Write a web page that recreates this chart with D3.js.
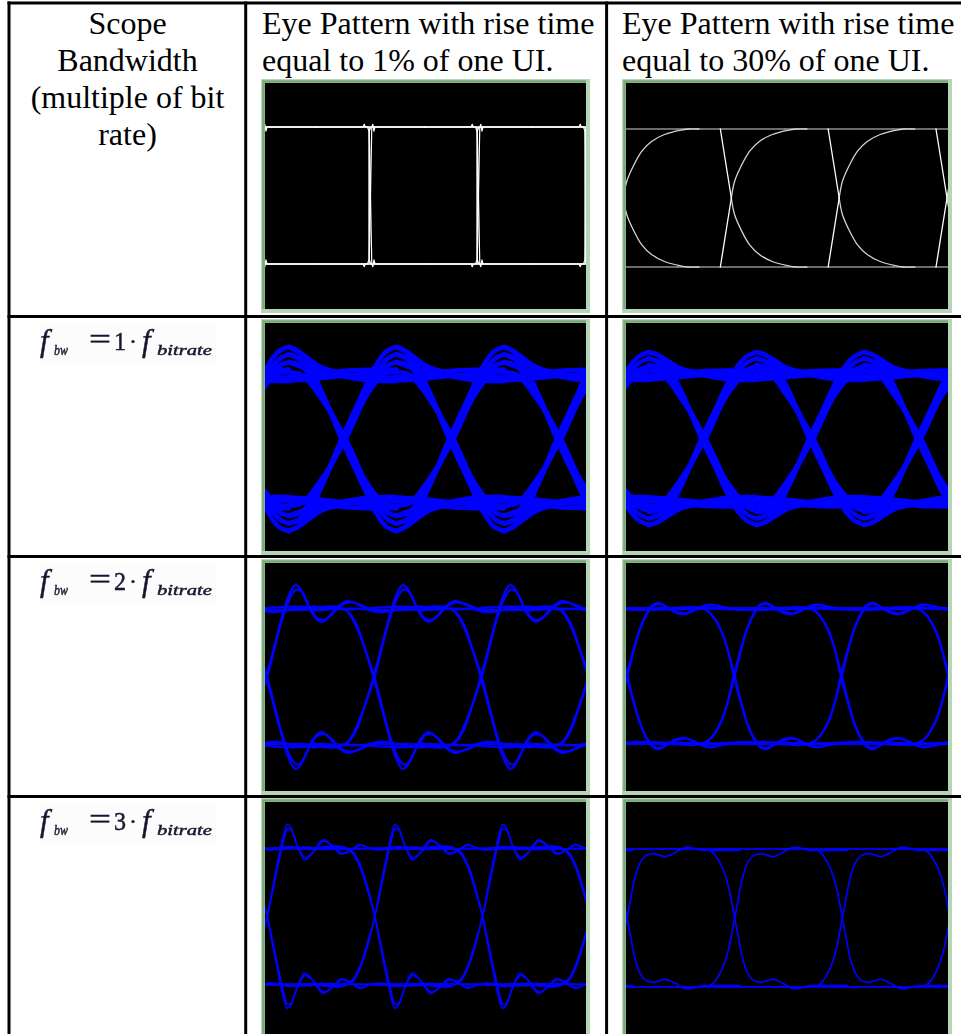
<!DOCTYPE html>
<html>
<head>
<meta charset="utf-8">
<script src="https://cdn.jsdelivr.net/npm/d3@7/dist/d3.min.js"></script>
<style>
html, body { margin: 0; padding: 0; background: #ffffff; }
svg { display: block; }
</style>
</head>
<body>
<svg id="chart" width="961" height="1034"></svg>
<script>
// ---------- table text ----------
const headerScope = ["Scope", "Bandwidth", "(multiple of bit", "rate)"];
const headerFast = ["Eye Pattern with rise time", "equal to 1% of one UI."];
const headerSlow = ["Eye Pattern with rise time", "equal to 30% of one UI."];
const bandwidthMultiples = ["1", "2", "3"];

// ---------- eye traces ----------
// Every trace is a list of [time in UI relative to a crossing, level (0 = low rail, 1 = high rail)].
// Edge traces are drawn at every crossing and again flipped top-to-bottom for the falling edge.

// source signal, 1% rise time
const sharpEdges = [
  [[-0.5, 0], [-0.07, 0], [-0.06, -0.02], [-0.05, 0], [-0.014, 0], [0.01, 1], [0.02, 1.02], [0.03, 0.97], [0.04, 1], [0.5, 1]],
  [[-0.5, 0], [-0.03, 0], [-0.016, 0.03], [-0.012, 0.97], [0.0, 1], [0.5, 1]]
];
const sharpRails = [[[-0.5, 1], [0.5, 1]]];

// source signal, 30% rise time: linear ramp to the crossing, then a rounded settle
const slowRamps = [[[-0.102, 0], [0, 0.5]]];
const slowSettles = [[[0, 0.5], [0.03, 0.62], [0.09, 0.73], [0.17, 0.84], [0.26, 0.91], [0.38, 0.96], [0.52, 0.99], [0.6, 1.0], [0.7, 1.0]]];
const slowRails = [[[-0.5, 1], [0.5, 1]]];

// scope bandwidth 1x bit rate, 1% rise (one UI cell centred on a crossing)
const bw1FastEdges = [
  [[-0.5, -0.23], [-0.42, -0.2], [-0.32, -0.1], [-0.2, 0.11], [-0.1, 0.3], [0, 0.5], [0.1, 0.7], [0.2, 0.89], [0.3, 1.07], [0.4, 1.19], [0.5, 1.23]],
  [[-0.5, -0.17], [-0.42, -0.15], [-0.3, -0.03], [-0.16, 0.2], [0.02, 0.5], [0.16, 0.78], [0.3, 1.01], [0.42, 1.14], [0.5, 1.17]],
  [[-0.5, -0.11], [-0.4, -0.09], [-0.28, 0.02], [-0.14, 0.24], [-0.01, 0.5], [0.14, 0.77], [0.3, 0.99], [0.43, 1.09], [0.5, 1.11]],
  [[-0.5, -0.03], [-0.38, -0.01], [-0.22, 0.15], [0.03, 0.5], [0.22, 0.84], [0.38, 1.01], [0.5, 1.05]]
];
const bw1FastRails = [
  [[-0.5, 1.23], [-0.42, 1.2], [-0.32, 1.14], [-0.2, 1.07], [0, 1.02], [0.2, 0.985], [0.38, 0.965], [0.5, 0.965]],
  [[-0.5, 1.17], [-0.4, 1.14], [-0.2, 1.06], [0, 1.0], [0.2, 0.97], [0.38, 0.96], [0.5, 0.96]],
  [[-0.5, 1.11], [-0.3, 1.05], [0, 1.0], [0.3, 0.985], [0.5, 0.99]],
  [[-0.5, 0.965], [-0.3, 0.975], [0, 1.0], [0.3, 1.02], [0.5, 1.03]],
  [[-0.5, 0.99], [-0.25, 1.01], [0, 1.04], [0.25, 1.05], [0.5, 1.05]]
];

// scope bandwidth 1x bit rate, 30% rise
const bw1SlowEdges = [
  [[-0.5, -0.18], [-0.42, -0.16], [-0.32, -0.07], [-0.2, 0.12], [-0.1, 0.31], [0, 0.5], [0.1, 0.69], [0.2, 0.88], [0.3, 1.04], [0.4, 1.14], [0.5, 1.18]],
  [[-0.5, -0.13], [-0.42, -0.11], [-0.3, -0.01], [-0.16, 0.21], [0.02, 0.5], [0.16, 0.78], [0.3, 1.0], [0.42, 1.1], [0.5, 1.13]],
  [[-0.5, -0.08], [-0.4, -0.06], [-0.28, 0.04], [-0.14, 0.25], [-0.01, 0.5], [0.14, 0.76], [0.3, 0.97], [0.43, 1.05], [0.5, 1.07]],
  [[-0.5, -0.03], [-0.38, -0.01], [-0.22, 0.16], [0.03, 0.5], [0.22, 0.83], [0.38, 0.99], [0.5, 1.03]]
];
const bw1SlowRails = [
  [[-0.5, 1.18], [-0.42, 1.16], [-0.32, 1.11], [-0.2, 1.05], [0, 1.015], [0.2, 0.985], [0.38, 0.965], [0.5, 0.965]],
  [[-0.5, 1.13], [-0.4, 1.1], [-0.2, 1.04], [0, 1.0], [0.2, 0.97], [0.38, 0.96], [0.5, 0.96]],
  [[-0.5, 1.07], [-0.3, 1.03], [0, 1.0], [0.3, 0.985], [0.5, 0.99]],
  [[-0.5, 0.965], [-0.3, 0.975], [0, 1.0], [0.3, 1.015], [0.5, 1.03]],
  [[-0.5, 0.99], [-0.25, 1.005], [0, 1.03], [0.25, 1.035], [0.5, 1.03]]
];

// scope bandwidth 2x bit rate, 1% rise
const bw2FastEdges = [
  [[-0.55, 0.0], [-0.35, -0.01], [-0.25, 0.02], [-0.18, 0.1], [-0.1, 0.25], [-0.04, 0.39], [0, 0.5], [0.06, 0.67], [0.12, 0.85], [0.18, 1.02], [0.23, 1.12], [0.27, 1.165], [0.31, 1.15], [0.37, 1.06], [0.44, 0.95], [0.51, 0.9], [0.58, 0.93], [0.67, 1.01], [0.76, 1.05], [0.85, 1.03], [0.95, 0.99], [1.05, 0.97], [1.15, 0.975], [1.3, 1.0], [1.45, 1.01], [1.55, 1.0]],
  [[-0.55, 0.02], [-0.3, 0.0], [-0.22, 0.04], [-0.15, 0.13], [-0.08, 0.29], [0.01, 0.5], [0.08, 0.71], [0.14, 0.89], [0.2, 1.03], [0.25, 1.11], [0.29, 1.135], [0.34, 1.11], [0.41, 1.0], [0.48, 0.925], [0.54, 0.915], [0.61, 0.95], [0.7, 1.02], [0.79, 1.04], [0.89, 1.02], [1.0, 0.985], [1.12, 0.98], [1.3, 1.0], [1.55, 1.0]]
];
const bw2FastRails = [
  [[-0.5, 1.0], [-0.25, 0.99], [0, 1.0], [0.25, 1.01], [0.5, 1.0]],
  [[-0.5, 0.985], [-0.2, 0.995], [0.1, 0.985], [0.5, 0.99]]
];

// scope bandwidth 2x bit rate, 30% rise
const bw2SlowEdges = [
  [[-0.55, 0.0], [-0.35, -0.005], [-0.24, 0.025], [-0.17, 0.09], [-0.117, 0.17], [-0.06, 0.3], [0, 0.5], [0.06, 0.68], [0.12, 0.84], [0.18, 0.95], [0.24, 1.02], [0.3, 1.04], [0.37, 1.01], [0.46, 0.965], [0.546, 0.955], [0.63, 0.98], [0.71, 1.015], [0.79, 1.025], [0.88, 1.01], [1.0, 0.995], [1.15, 0.99], [1.3, 1.0], [1.55, 1.0]],
  [[-0.55, 0.01], [-0.3, 0.0], [-0.22, 0.035], [-0.15, 0.11], [-0.1, 0.19], [-0.05, 0.32], [0.01, 0.5], [0.07, 0.69], [0.13, 0.85], [0.19, 0.955], [0.25, 1.015], [0.31, 1.03], [0.38, 1.0], [0.47, 0.97], [0.55, 0.962], [0.64, 0.985], [0.72, 1.01], [0.8, 1.02], [0.9, 1.005], [1.05, 0.99], [1.3, 1.0], [1.55, 1.0]]
];
const bw2SlowRails = [
  [[-0.5, 1.0], [0.5, 1.0]],
  [[-0.5, 0.99], [-0.2, 0.995], [0.1, 0.985], [0.5, 0.99]]
];

// scope bandwidth 3x bit rate, 1% rise
const bw3FastEdges = [
  [[-0.55, 0.0], [-0.3, -0.01], [-0.2, 0.03], [-0.13, 0.13], [-0.06, 0.3], [0, 0.5], [0.05, 0.7], [0.1, 0.9], [0.15, 1.08], [0.186, 1.17], [0.22, 1.15], [0.28, 1.02], [0.35, 0.915], [0.42, 0.96], [0.52, 1.06], [0.6, 1.02], [0.69, 0.955], [0.77, 0.98], [0.86, 1.025], [0.95, 1.0], [1.03, 0.985], [1.2, 1.01], [1.35, 0.995], [1.55, 1.0]],
  [[-0.55, 0.01], [-0.3, 0.0], [-0.21, 0.035], [-0.14, 0.13], [-0.07, 0.3], [0.0, 0.49], [0.055, 0.69], [0.105, 0.88], [0.155, 1.05], [0.19, 1.14], [0.225, 1.13], [0.285, 1.01], [0.355, 0.93], [0.43, 0.97], [0.525, 1.05], [0.61, 1.015], [0.7, 0.962], [0.78, 0.985], [0.87, 1.02], [0.97, 0.995], [1.1, 0.99], [1.3, 1.005], [1.55, 1.0]]
];
const bw3FastRails = [
  [[-0.5, 1.0], [-0.25, 0.995], [0, 1.0], [0.25, 1.005], [0.5, 1.0]],
  [[-0.5, 0.99], [0, 0.993], [0.5, 0.99]]
];

// scope bandwidth 3x bit rate, 30% rise
const bw3SlowEdges = [
  [[-0.55, 0.0], [-0.3, 0.0], [-0.21, 0.02], [-0.117, 0.13], [-0.055, 0.28], [0, 0.5], [0.03, 0.62], [0.07, 0.78], [0.12, 0.9], [0.175, 0.952], [0.25, 0.966], [0.36, 0.945], [0.45, 0.975], [0.545, 1.012], [0.62, 1.005], [0.7, 0.99], [0.85, 1.0], [1.0, 1.0], [1.55, 1.0]]
];
const bw3SlowRails = [
  [[-0.5, 1.0], [0.5, 1.0]],
  [[-0.2, 0.99], [0.05, 0.99]]
];

// ---------- layout ----------
const W = 961, H = 1034;
const serif = "'Liberation Serif','Times New Roman',Times,serif";
const colFrames = [
  { x0: 261, x1: 590 },
  { x0: 622, x1: 952 }
];
const rowFrames = [
  { y0: 79, y1: 313 },
  { y0: 319, y1: 555 },
  { y0: 559, y1: 795 },
  { y0: 798, y1: 1040 }
];
// pixel columns spanned by the three-UI time window, and rows of the high / low rails
const eyeX = [
  [[262.7, 586.7], [623.5, 947]],
  [[265, 588], [625, 948]],
  [[266, 588], [626.5, 948]],
  [[267, 590], [627, 950]]
];
const railY = [
  [[127, 264], [129, 267]],
  [[376, 502], [375, 502]],
  [[608, 746], [608, 744]],
  [[848, 985], [849, 987]]
];
const BLUE = "#0000ff";
const linear = d3.curveLinear, smooth = d3.curveCatmullRom.alpha(0.5);

const eyePanels = [
  { row: 0, col: 0, offset: 0, layers: [
    { traces: sharpRails, color: "#f2f2f2", width: 1.5, curve: linear },
    { traces: sharpEdges, color: "#ffffff", width: 1.2, curve: linear } ] },
  { row: 0, col: 1, offset: 0, layers: [
    { traces: slowRails, color: "#8e8e8e", width: 1.6, curve: linear },
    { traces: slowSettles, color: "#d4d4d4", width: 1.3, curve: smooth },
    { traces: slowRamps, color: "#ffffff", width: 1.3, curve: linear } ] },
  { row: 1, col: 0, offset: 0.72, layers: [
    { traces: bw1FastRails, color: BLUE, width: 4.6, curve: smooth },
    { traces: bw1FastEdges, color: BLUE, width: 4.6, curve: smooth } ] },
  { row: 1, col: 1, offset: 0.72, layers: [
    { traces: bw1SlowRails, color: BLUE, width: 4.4, curve: smooth },
    { traces: bw1SlowEdges, color: BLUE, width: 4.4, curve: smooth } ] },
  { row: 2, col: 0, offset: 0, layers: [
    { traces: bw2FastRails, color: BLUE, width: 2.2, curve: smooth },
    { traces: bw2FastEdges, color: BLUE, width: 2.2, curve: smooth } ] },
  { row: 2, col: 1, offset: 0, layers: [
    { traces: bw2SlowRails, color: BLUE, width: 2, curve: smooth },
    { traces: bw2SlowEdges, color: BLUE, width: 2, curve: smooth } ] },
  { row: 3, col: 0, offset: 0, layers: [
    { traces: bw3FastRails, color: BLUE, width: 1.6, curve: smooth },
    { traces: bw3FastEdges, color: BLUE, width: 1.6, curve: smooth } ] },
  { row: 3, col: 1, offset: 0, layers: [
    { traces: bw3SlowRails, color: BLUE, width: 1.7, curve: smooth },
    { traces: bw3SlowEdges, color: BLUE, width: 1.7, curve: smooth } ] }
];

// ---------- drawing ----------
const svg = d3.select("#chart").attr("viewBox", `0 0 ${W} ${H}`);
svg.append("rect").attr("width", W).attr("height", H).attr("fill", "#ffffff");
const defs = svg.append("defs");
defs.append("filter").attr("id", "soft").append("feGaussianBlur").attr("stdDeviation", 0.4);

// header row
const headerBaselines = [33.5, 70.8, 108.1, 145.4];
const header = svg.append("g").style("font-family", serif).style("font-size", "32px").attr("fill", "#000");
header.selectAll("text.scope").data(headerScope).join("text").attr("class", "scope")
  .attr("x", 127.5).attr("y", (d, i) => headerBaselines[i]).attr("text-anchor", "middle").text(d => d);
header.selectAll("text.fast").data(headerFast).join("text").attr("class", "fast")
  .attr("x", 262).attr("y", (d, i) => headerBaselines[i]).text(d => d);
header.selectAll("text.slow").data(headerSlow).join("text").attr("class", "slow")
  .attr("x", 622).attr("y", (d, i) => headerBaselines[i]).text(d => d);

// bandwidth labels  f_bw = n · f_bitrate
const rowTops = [316.6, 556.6, 796.6];
bandwidthMultiples.forEach((n, i) => {
  const base = rowTops[i] + 33.5;
  svg.append("rect").attr("x", 40).attr("y", base - 25).attr("width", 176).attr("height", 40).attr("fill", "#fcfcfc");
  const g = svg.append("g").style("font-family", serif).attr("fill", "#161630")
    .attr("stroke", "#161630").attr("stroke-width", 0.45).attr("filter", "url(#soft)");
  g.append("text").attr("x", 40).attr("y", base + 1).style("font-size", "31px").style("font-style", "italic").text("f");
  g.append("text").attr("x", 54).attr("y", base + 5).style("font-size", "15px").style("font-style", "italic")
    .attr("textLength", 14).attr("lengthAdjust", "spacingAndGlyphs").text("bw");
  g.append("text").attr("x", 89).attr("y", base - 1).style("font-size", "30px")
    .attr("textLength", 22).attr("lengthAdjust", "spacingAndGlyphs").text("=");
  g.append("text").attr("x", 114).attr("y", base).style("font-size", "25px")
    .attr("textLength", 12).attr("lengthAdjust", "spacingAndGlyphs").text(n);
  g.append("text").attr("x", 129).attr("y", base - 1).style("font-size", "24px").text("\u00b7");
  g.append("text").attr("x", 142).attr("y", base + 1).style("font-size", "31px").style("font-style", "italic").text("f");
  g.append("text").attr("x", 157).attr("y", base + 5).style("font-size", "15px").style("font-style", "italic")
    .attr("textLength", 55).attr("lengthAdjust", "spacingAndGlyphs").text("bitrate");
});

// eye panels
eyePanels.forEach(p => {
  const cf = colFrames[p.col], rf = rowFrames[p.row];
  const [yHi, yLo] = railY[p.row][p.col];
  const span = eyeX[p.row][p.col];
  const inset = 3.5;
  const clipId = `eye-clip-${p.row}-${p.col}`;
  defs.append("clipPath").attr("id", clipId).append("rect")
    .attr("x", cf.x0 + inset).attr("y", rf.y0 + inset)
    .attr("width", cf.x1 - cf.x0 - 2 * inset).attr("height", rf.y1 - rf.y0 - 2 * inset);

  const g = svg.append("g");
  g.append("rect").attr("x", cf.x0).attr("y", rf.y0)
    .attr("width", cf.x1 - cf.x0).attr("height", rf.y1 - rf.y0).attr("fill", "#000");

  const plot = g.append("g").attr("clip-path", `url(#${clipId})`)
    .attr("fill", "none").attr("stroke-linejoin", "round").attr("stroke-linecap", "round");
  const yUp = d3.scaleLinear().domain([0, 1]).range([yLo, yHi]);
  const yDown = d3.scaleLinear().domain([1, 0]).range([yLo, yHi]);
  const crossings = d3.range(-2, 5).map(k => k + p.offset);

  p.layers.forEach(layer => {
    crossings.forEach(c => {
      // time axis with this crossing at 0
      const x = d3.scaleLinear().domain([-c, 3 - c]).range(span);
      [yUp, yDown].forEach(y => {
        const line = d3.line().x(d => x(d[0])).y(d => y(d[1])).curve(layer.curve);
        plot.selectAll(null).data(layer.traces).join("path")
          .attr("d", line).attr("stroke", layer.color).attr("stroke-width", layer.width);
      });
    });
  });

  // bevelled green frame
  const fr = g.append("g").attr("fill", "none");
  fr.append("rect").attr("x", cf.x0 + 2).attr("y", rf.y0 + 2)
    .attr("width", cf.x1 - cf.x0 - 4).attr("height", rf.y1 - rf.y0 - 4)
    .attr("stroke", "#b5d5b5").attr("stroke-width", 4);
  fr.append("path")
    .attr("d", `M${cf.x0 + 2.5},${rf.y1 - 4}V${rf.y0 + 2.5}H${cf.x1 - 4}`)
    .attr("stroke", "#78a878").attr("stroke-width", 2.5);
});

// table rules
const rules = svg.append("g").attr("stroke", "#000").attr("stroke-width", 3);
rules.append("line").attr("x1", 7.5).attr("x2", W).attr("y1", 3).attr("y2", 3);
rules.append("line").attr("x1", 9).attr("x2", 9).attr("y1", 1.5).attr("y2", H);
[245.7, 606.6].forEach(cx => rules.append("line").attr("x1", cx).attr("x2", cx).attr("y1", 1.5).attr("y2", H));
rowTops.forEach(ry => rules.append("line").attr("x1", 7.5).attr("x2", W).attr("y1", ry).attr("y2", ry));
</script>
</body>
</html>
